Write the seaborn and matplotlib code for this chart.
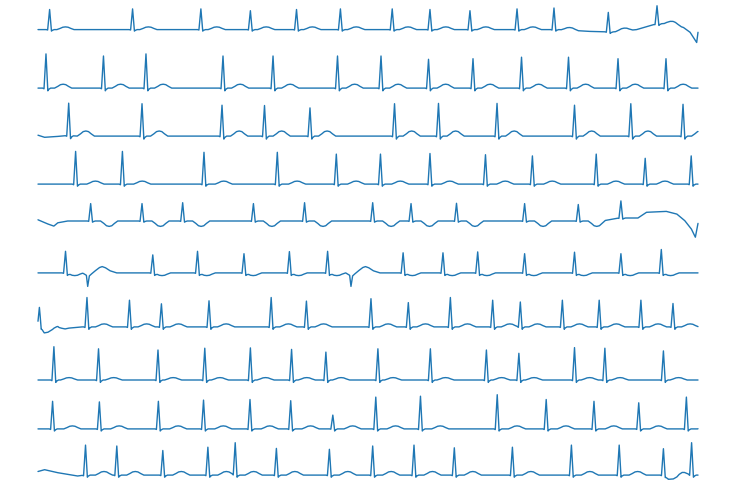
import numpy as np
import pandas as pd
import seaborn as sns
import matplotlib
matplotlib.use("Agg")
import matplotlib.pyplot as plt

# ---- data (time in s, amplitude in mV) ----
DURATION = 10.0
ROW_BASELINES = [-1.02, -2.97, -4.57, -6.17, -7.40, -9.13, -10.93, -12.70, -14.33, -15.87]

R_TIMES = [
    [0.176, 1.433, 2.468, 3.218, 3.917, 4.582, 5.367, 5.939, 6.545, 7.258, 7.818, 8.641, 9.379],
    [0.121, 0.992, 1.636, 2.803, 3.561, 4.538, 5.197, 5.917, 6.591, 7.326, 8.038, 8.788, 9.515],
    [0.465, 1.576, 2.788, 3.432, 4.121, 5.402, 6.068, 6.955, 8.129, 8.982, 9.773],
    [0.570, 1.279, 2.515, 3.626, 4.520, 5.189, 5.939, 6.780, 7.491, 8.458, 9.200, 9.897],
    [0.798, 1.576, 2.192, 3.264, 4.039, 5.071, 5.652, 6.341, 7.373, 8.186, 8.832],
    [0.417, 1.739, 2.417, 3.121, 3.809, 4.388, 5.532, 6.136, 6.662, 7.373, 8.129, 8.832, 9.444],
    [0.021, 0.742, 1.386, 1.870, 2.591, 3.533, 4.067, 5.045, 5.611, 6.248, 6.889, 7.308, 7.945, 8.503, 9.135, 9.621],
    [0.241, 0.917, 1.818, 2.527, 3.218, 3.842, 4.362, 5.150, 5.945, 6.794, 7.286, 8.129, 8.589, 9.476],
    [0.221, 0.930, 1.824, 2.508, 3.212, 3.829, 4.467, 5.118, 5.795, 6.958, 7.700, 8.424, 9.102, 9.824],
    [0.720, 1.194, 1.891, 2.574, 2.988, 3.612, 4.415, 5.071, 5.697, 6.308, 7.188, 8.082, 8.806, 9.476, 9.903],
]
R_AMPS = [
    [0.67, 0.69, 0.69, 0.63, 0.67, 0.69, 0.69, 0.67, 0.63, 0.69, 0.72, 0.65, 0.61],
    [1.14, 1.07, 1.14, 1.07, 1.07, 1.07, 1.07, 0.96, 0.98, 1.03, 1.03, 0.98, 0.98],
    [1.08, 1.08, 1.03, 1.02, 0.94, 1.08, 1.09, 1.09, 1.03, 1.08, 1.06],
    [1.09, 1.09, 1.06, 1.06, 1.00, 1.00, 1.02, 0.98, 0.94, 1.00, 0.86, 0.94],
    [0.58, 0.58, 0.61, 0.58, 0.61, 0.61, 0.58, 0.59, 0.58, 0.55, 0.57],
    [0.72, 0.60, 0.72, 0.64, 0.71, 0.72, 0.67, 0.67, 0.70, 0.64, 0.69, 0.64, 0.78],
    [0.65, 0.98, 0.89, 0.77, 0.87, 0.98, 0.86, 0.94, 0.81, 0.98, 0.89, 0.83, 0.89, 0.89, 0.89, 0.78],
    [1.11, 1.04, 1.00, 1.06, 1.07, 1.02, 0.93, 1.04, 1.04, 1.00, 0.89, 1.08, 1.06, 0.97],
    [0.92, 0.90, 0.92, 0.96, 0.98, 0.94, 0.46, 1.06, 1.09, 1.14, 0.98, 0.92, 0.87, 1.06],
    [1.00, 0.97, 0.82, 0.93, 1.08, 0.89, 0.86, 0.97, 1.00, 0.91, 0.93, 1.00, 1.00, 0.88, 1.08],
]
T_AMPS = [0.09, 0.13, 0.17, 0.10, -0.18, -0.09, 0.10, 0.08, 0.10, 0.12]
T_DELAYS = [0.24, 0.26, 0.26, 0.30, 0.28, 0.14, 0.26, 0.23, 0.30, 0.28]
S_DEPTHS = [-0.05, -0.09, -0.10, -0.07, -0.04, -0.07, -0.08, -0.08, -0.07, -0.07]
T_OVERRIDES = {4: {10: 0.0}}

# baseline wander knots per row: (time, mV)
DRIFT = {
    0: [(0.0, 0.0), (7.9, 0.0), (8.36, -0.06), (8.7, -0.08), (9.07, 0.0), (9.35, 0.18),
        (9.53, 0.21), (9.63, 0.18), (9.78, 0.07), (9.88, -0.09), (9.98, -0.43), (10.0, -0.09)],
    2: [(0.0, 0.03), (0.1, -0.04), (0.3, -0.01), (0.45, 0.02), (0.6, 0.0)],
    4: [(0.0, 0.04), (0.15, -0.10), (0.24, -0.17), (0.30, -0.06), (0.45, 0.0), (8.55, 0.0),
        (8.8, 0.1), (9.09, 0.1), (9.22, 0.29), (9.52, 0.32), (9.68, 0.23), (9.80, 0.01),
        (9.90, -0.27), (9.96, -0.54), (10.0, -0.08)],
    6: [(0.0, 0.0), (0.05, 0.0), (0.095, -0.20), (0.22, -0.15), (0.30, -0.08), (0.32, -0.11),
        (0.47, -0.04), (0.67, 0.0)],
    9: [(0.0, 0.12), (0.1, 0.18), (0.3, 0.08), (0.6, -0.03), (0.7, 0.0), (9.50, 0.0),
        (9.55, -0.14), (9.68, -0.12), (9.76, -0.03), (9.85, 0.0)],
}

# premature ventricular beats (row 6)
PVC_TIMES = {5: [0.753, 4.742]}
PVC_OFFSETS = [-0.08, -0.02, 0.0, 0.025, 0.06, 0.12, 0.18, 0.22, 0.27, 0.34, 0.44]
PVC_VALUES = [0.0, -0.08, -0.45, -0.10, -0.03, 0.08, 0.18, 0.21, 0.17, 0.07, 0.0]

# beat template knots
QRS_OFFSETS = [-0.05, -0.03, -0.012, 0.0, 0.012, 0.028, 0.04, 0.07]
QRS_SHAPE = [0.0, -0.02, 0.6, 1.0, 0.55, None, None, 0.0]   # None -> S-wave depth
T_OFFSETS = [-0.13, -0.08, -0.04, 0.0, 0.04, 0.08, 0.13]
T_SHAPE = [0.0, 0.45, 0.88, 1.0, 0.88, 0.45, 0.0]


def build_row(i):
    comps = []
    for k, (tb, a) in enumerate(zip(R_TIMES[i], R_AMPS[i])):
        s = S_DEPTHS[i]
        qv = [a * v if v is not None else (s if j == 5 else s * 0.5)
              for j, v in enumerate(QRS_SHAPE)]
        comps.append((np.array(QRS_OFFSETS) + tb, np.array(qv)))
        ta = T_OVERRIDES.get(i, {}).get(k, T_AMPS[i])
        comps.append((np.array(T_OFFSETS) + tb + T_DELAYS[i], np.array(T_SHAPE) * ta))
    for tp in PVC_TIMES.get(i, []):
        comps.append((np.array(PVC_OFFSETS) + tp, np.array(PVC_VALUES)))
    drift = DRIFT.get(i)
    knots = [np.array([0.0, DURATION])] + [c[0] for c in comps]
    if drift:
        knots.append(np.array([d[0] for d in drift]))
    t = np.unique(np.concatenate(knots))
    t = t[(t >= 0) & (t <= DURATION)]
    y = np.zeros_like(t)
    for ct, cv in comps:
        y += np.interp(t, ct, cv, left=0.0, right=0.0)
    if drift:
        y += np.interp(t, [d[0] for d in drift], [d[1] for d in drift])
    return t, y + ROW_BASELINES[i]


frames = []
for i in range(len(R_TIMES)):
    t, y = build_row(i)
    frames.append(pd.DataFrame({"t": t, "mV": y, "row": i}))
df = pd.concat(frames, ignore_index=True)

sns.set_theme(style="white")
fig = plt.figure(figsize=(7.36, 4.89), dpi=100)
ax = fig.add_axes([0, 0, 1, 1])
sns.lineplot(data=df, x="t", y="mV", units="row", estimator=None, sort=False,
             color="#1f77b4", linewidth=1.0, ax=ax)
ax.set_xlim(-38 / 66, (736 - 38) / 66)
ax.set_ylim(-489 / 30, 0)
ax.axis("off")
fig.savefig("out.png", dpi=100)
